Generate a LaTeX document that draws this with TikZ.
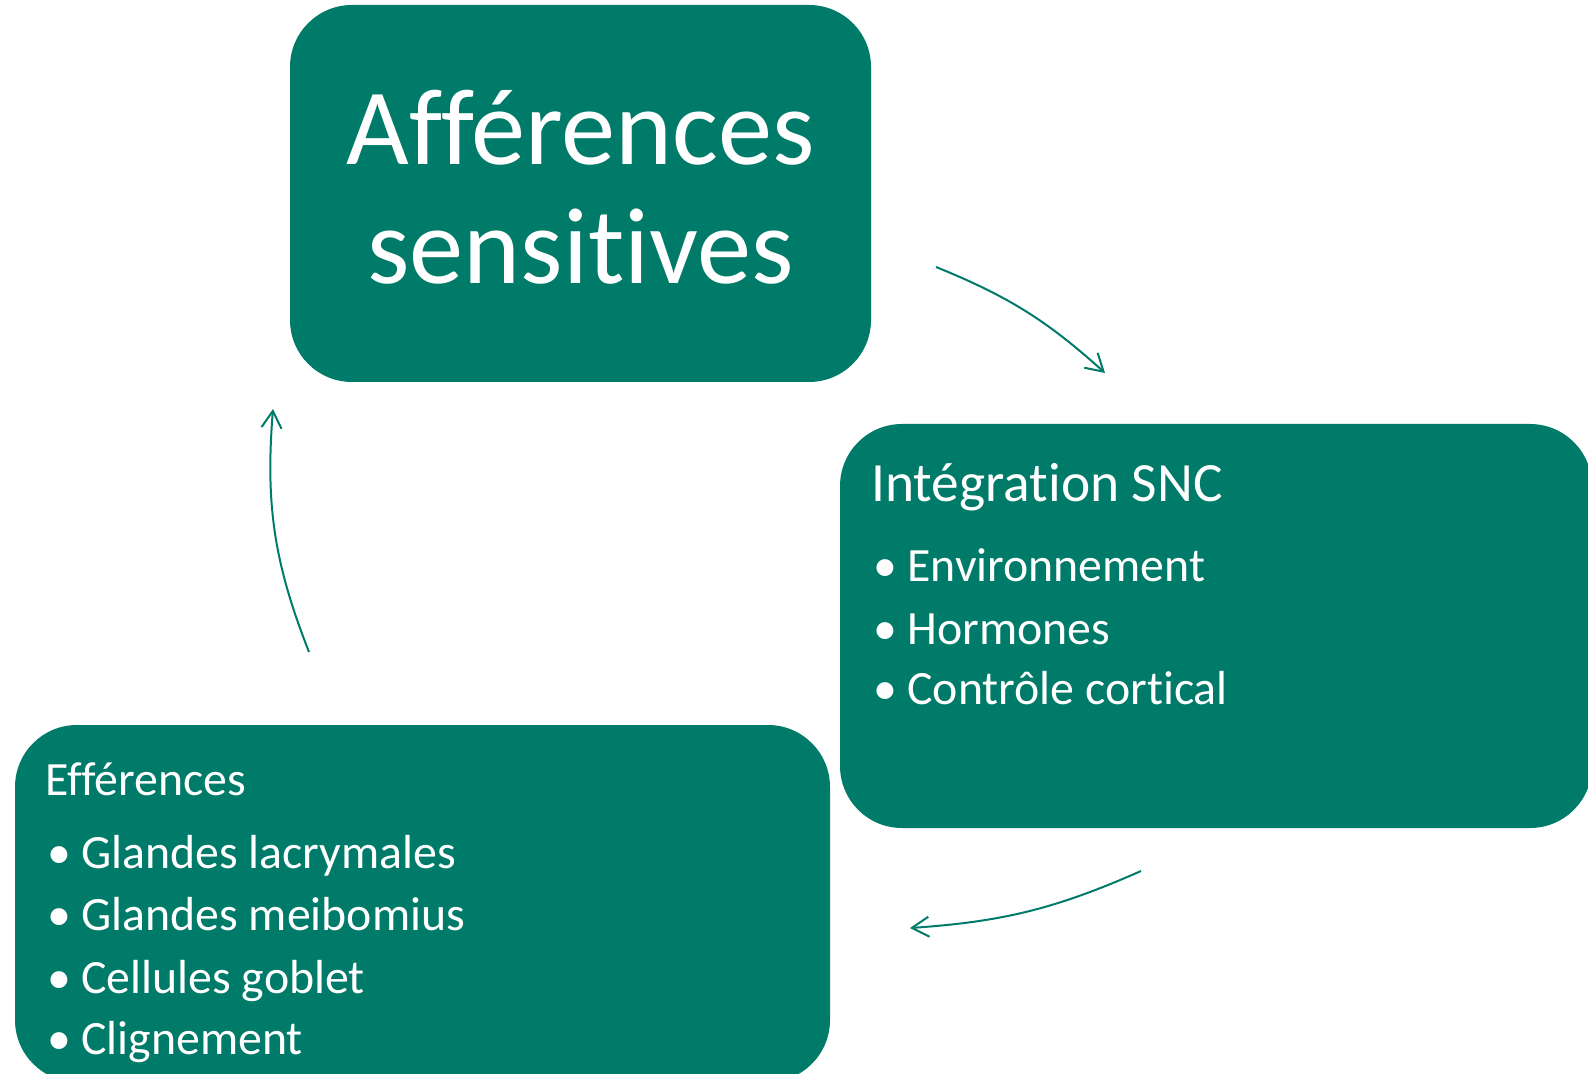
\documentclass[tikz,border=0pt]{standalone}
\usepackage{fontspec}
\setmainfont{Carlito}[Ligatures=CommonOff]
\usetikzlibrary{arrows.meta}
\definecolor{sarcelle}{RGB}{0,123,105}
\newcommand{\puce}[1]{\makebox[17pt][l]{\textbullet}#1}

\begin{document}
\begin{tikzpicture}[x=0.5pt,y=-0.5pt,
    boite/.style={fill=sarcelle,rounded corners=31pt,inner sep=0},
    texte/.style={text=white,inner sep=0,anchor=base west,font=\fontsize{23.9pt}{28pt}\selectfont},
    fleche/.style={draw=sarcelle,line width=1pt,-{Straight Barb[length=8.5pt,width=10pt]}}]
    \useasboundingbox(0,0)rectangle(1588,1074);

    % les trois blocs
    \node[boite,minimum width=290.5pt,minimum height=188.5pt](aff)at(580.5,193.5){};
    \node[boite,minimum width=376pt,minimum height=202pt](snc)at(1216,626){};
    \node[boite,minimum width=407.5pt,minimum height=178.5pt](eff)at(422.5,903.5){};

    \node[texte,anchor=base,font=\fontsize{54.2pt}{60pt}\selectfont](aff1)at(580.5,165){Afférences};
    \node[texte,anchor=base,font=\fontsize{54.2pt}{60pt}\selectfont](aff2)at(580.5,284){sensitives};

    \node[texte,font=\fontsize{27.7pt}{32pt}\selectfont](snc0)at(871,502){Intégration SNC};
    \node[texte](snc1)at(873,581){\puce{Environnement}};
    \node[texte](snc2)at(873,644){\puce{Hormones}};
    \node[texte](snc3)at(873,704){\puce{Contrôle cortical}};

    \node[texte](eff0)at(45,795){Efférences};
    \node[texte](eff1)at(47,868){\puce{Glandes lacrymales}};
    \node[texte](eff2)at(47,930){\puce{Glandes meibomius}};
    \node[texte](eff3)at(47,993){\puce{Cellules goblet}};
    \node[texte](eff4)at(47,1054){\puce{Clignement}};

    % fleches du cycle
    \coordinate(f1a)at(936,267);
    \coordinate(f1b)at(1105,373);
    \coordinate(f2a)at(1141,871);
    \coordinate(f2b)at(910,928);
    \coordinate(f3a)at(309,652);
    \coordinate(f3b)at(273,409);
    \draw[fleche](f1a)to[bend left=10](f1b);
    \draw[fleche](f2a)to[bend left=10](f2b);
    \draw[fleche](f3a)to[bend left=13](f3b);
\end{tikzpicture}
\end{document}
